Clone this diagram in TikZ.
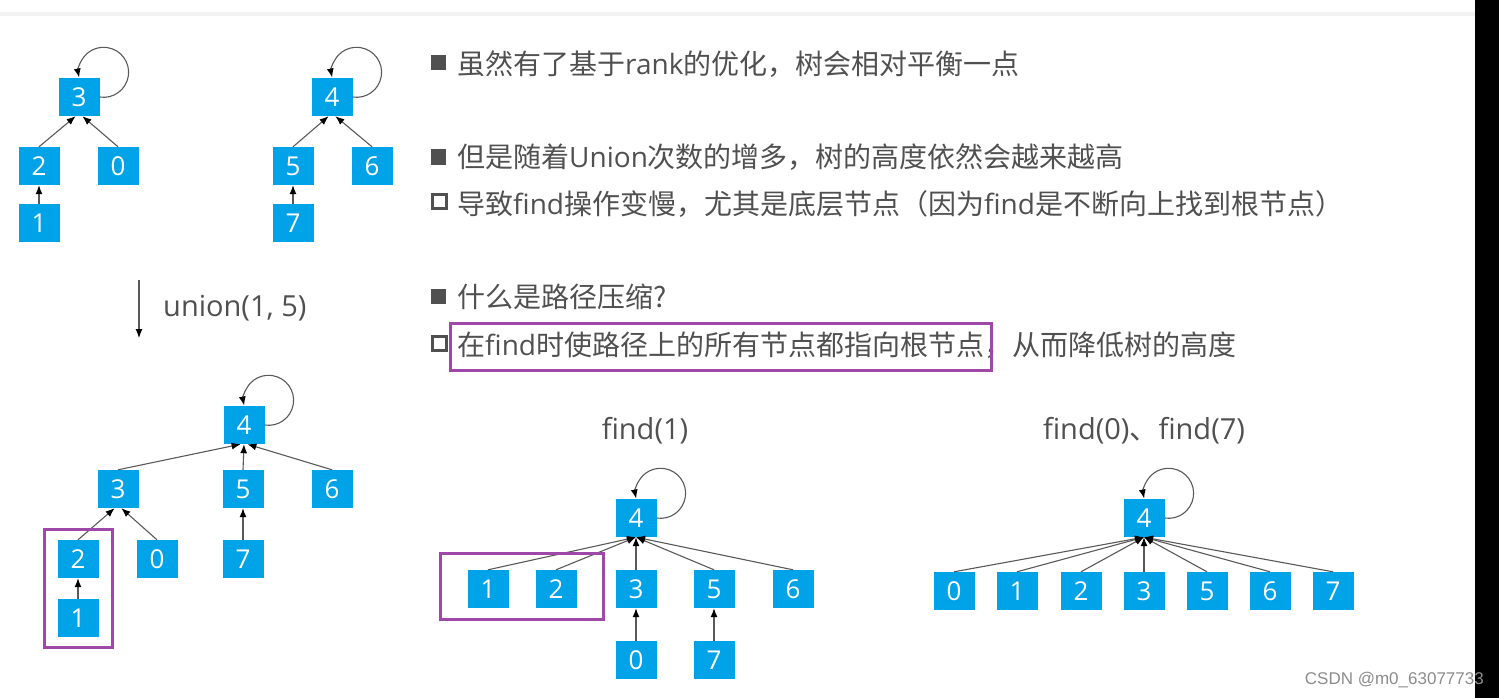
\documentclass[tikz,border=0pt]{standalone}
\usepackage{fontspec}
\setmainfont{Open Sans}
\newfontfamily\cjk{Noto Sans CJK SC}
\newfontfamily\wmfont{Liberation Sans}
\usepackage{tikz}
\usetikzlibrary{positioning,arrows.meta}
\definecolor{ufblue}{RGB}{0,162,232}
\definecolor{ufgray}{RGB}{80,80,80}
\definecolor{ufpurple}{RGB}{160,72,168}
\newcommand{\lat}[1]{{\rmfamily #1}}
\newcommand{\selfloop}[1]{\draw[arr] (#1.east) arc[start angle=99,end angle=-192,radius=25];}

\begin{document}
\begin{tikzpicture}[x=1pt,y=-1pt,
    box/.style={rectangle,fill=ufblue,text=white,
                minimum width=41pt,minimum height=38pt,inner sep=0pt,
                font=\fontsize{26}{26}\selectfont},
    arr/.style={-{Latex[length=9pt,width=7pt,color=black]},
                draw=black!65,line width=1.1pt},
    txt/.style={anchor=west,inner sep=0pt,text=ufgray,
                font=\fontsize{28}{28}\cjk},
    lbl/.style={inner sep=0pt,text=ufgray,font=\fontsize{29}{29}\selectfont},
    bulf/.style={fill=ufgray,minimum size=15pt,inner sep=0pt},
    bulh/.style={draw=ufgray,line width=3pt,minimum size=14pt,inner sep=0pt},
    hl/.style={draw=ufpurple,line width=3pt}]
  \useasboundingbox (0,0) rectangle (1499,698);
  \fill[black!5] (0,12) rectangle (1475,16);
  \fill[black] (1475,0) rectangle (1499,698);

  % two trees before union
  \node[box] (a3) at (79,97) {3};
  \node[box] (a2) at (39,166) {2};
  \node[box] (a0) at (118,166) {0};
  \node[box,below=19pt of a2] (a1) {1};
  \draw[arr] (a2.north) -- (a3.260);
  \draw[arr] (a0.north) -- (a3.280);
  \draw[arr] (a1.north) -- (a2.south);
  \selfloop{a3}

  \node[box] (b4) at (332,97) {4};
  \node[box] (b5) at (293,166) {5};
  \node[box] (b6) at (372,166) {6};
  \node[box,below=19pt of b5] (b7) {7};
  \draw[arr] (b5.north) -- (b4.260);
  \draw[arr] (b6.north) -- (b4.280);
  \draw[arr] (b7.north) -- (b5.south);
  \selfloop{b4}

  % union step
  \coordinate (u0) at (139,280);
  \coordinate (u1) at (139,338);
  \draw[arr] (u0) -- (u1);
  \node[lbl,anchor=west] (ulbl) at (163,308) {union(1, 5)};

  % tree after union
  \node[box] (c4) at (244,425) {4};
  \node[box] (c3) at (118,489) {3};
  \node[box] (c5) at (243,489) {5};
  \node[box] (c6) at (332,489) {6};
  \node[box] (c2) at (78,559) {2};
  \node[box] (c0) at (157,559) {0};
  \node[box] (c7) at (243,559) {7};
  \node[box,below=21pt of c2] (c1) {1};
  \draw[arr] (c3.north) -- (c4.260);
  \draw[arr] (c5.north) -- (c4.south);
  \draw[arr] (c6.north) -- (c4.280);
  \draw[arr] (c2.north) -- (c3.260);
  \draw[arr] (c0.north) -- (c3.280);
  \draw[arr] (c7.north) -- (c5.south);
  \draw[arr] (c1.north) -- (c2.south);
  \selfloop{c4}
  \draw[hl] (44,529) rectangle (112,647);

  % text
  \node[bulf] (p1) at (438,63) {};
  \node[txt] (l1) at (457,64) {虽然有了基于\lat{rank}的优化，树会相对平衡一点};
  \node[bulf] (p2) at (438,157) {};
  \node[txt] (l2) at (457,157) {但是随着\lat{Union}次数的增多，树的高度依然会越来越高};
  \node[bulh] (p3) at (439,201) {};
  \node[txt] (l3) at (457,204) {导致\lat{find}操作变慢，尤其是底层节点（因为\lat{find}是不断向上找到根节点）};
  \node[bulf] (p4) at (438,296) {};
  \node[txt] (l4) at (457,297) {什么是路径压缩?};
  \node[bulh] (p5) at (439,343) {};
  \node[txt] (l5) at (457,345) {在\lat{find}时使路径上的所有节点都指向根节点，从而降低树的高度};
  \draw[hl] (450,323) rectangle (991,370);

  % find(1)
  \node[lbl] (f1) at (645,431) {find(1)};
  \node[box] (d4) at (636,518) {4};
  \node[box] (d1) at (488,589) {1};
  \node[box] (d2) at (556,589) {2};
  \node[box] (d3) at (636,589) {3};
  \node[box] (d5) at (714,589) {5};
  \node[box] (d6) at (793,589) {6};
  \node[box] (d0) at (636,660) {0};
  \node[box] (d7) at (714,660) {7};
  \foreach \n in {1,2,3,5,6}
    \draw[arr] (d\n.north) -- (d4.south);
  \draw[arr] (d0.north) -- (d3.south);
  \draw[arr] (d7.north) -- (d5.south);
  \selfloop{d4}
  \draw[hl] (440,553) rectangle (603,619);

  % find(0), find(7)
  \node[lbl] (f07) at (1144,431) {find(0){\cjk 、}find(7)};
  \node[box] (e4) at (1144,518) {4};
  \foreach \n/\x in {0/954,1/1017,2/1081,3/1144,5/1207,6/1270,7/1333}{
    \node[box] (e\n) at (\x,591) {\n};
    \draw[arr] (e\n.north) -- (e4.south);
  }
  \selfloop{e4}

  \node[anchor=east,inner sep=0pt,text=black!45,font=\fontsize{17}{17}\wmfont]
    (wm) at (1484,680) {CSDN @m0\_63077733};
\end{tikzpicture}
\end{document}
